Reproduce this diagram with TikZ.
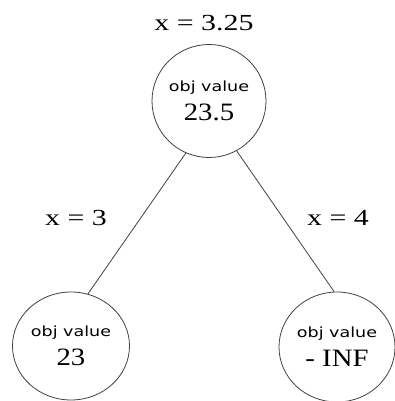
\documentclass[tikz,border=0pt]{standalone}
\usepackage{fontspec}
\setmainfont{Liberation Serif}
\newfontfamily\objfont[FakeStretch=1.25]{DejaVu Sans}
\newfontfamily\numfont[FakeStretch=1.15]{Liberation Serif}
\newfontfamily\labfont[FakeStretch=1.3]{Liberation Serif}
\usetikzlibrary{shapes.geometric}

\newcommand{\objval}[1]{%
  {\objfont\fontsize{14}{16}\selectfont obj value}\\[9pt]
  {\numfont\fontsize{25}{26}\selectfont #1}}

\tikzset{
  valnode/.style={draw=black!75, line width=0.8pt, ellipse, inner sep=0pt,
    align=center},
  branch/.style={draw=black!75, line width=0.8pt},
  xlabel/.style={font=\labfont\fontsize{23}{26}\selectfont}
}

\begin{document}
\begin{tikzpicture}[x=1pt,y=-1pt]
  \useasboundingbox (0,0) rectangle (394,401);

  % (value, branch)
  \node[valnode, minimum width=114pt, minimum height=113pt] (root) at (209,101) {\objval{23.5}};
  \node[valnode, minimum width=117pt, minimum height=108pt] (left) at (71,346) {\objval{23}};
  \node[valnode, minimum width=116pt, minimum height=110pt] (right) at (337,347) {\objval{- INF}};

  \draw[branch] (root.246) -- (left.72);
  \draw[branch] (root.299) -- (right.93);

  \node[xlabel] (xroot) at (204,23) {x = 3.25};
  \node[xlabel] (xleft) at (76,218) {x = 3};
  \node[xlabel] (xright) at (338,218) {x = 4};

\end{tikzpicture}
\end{document}
